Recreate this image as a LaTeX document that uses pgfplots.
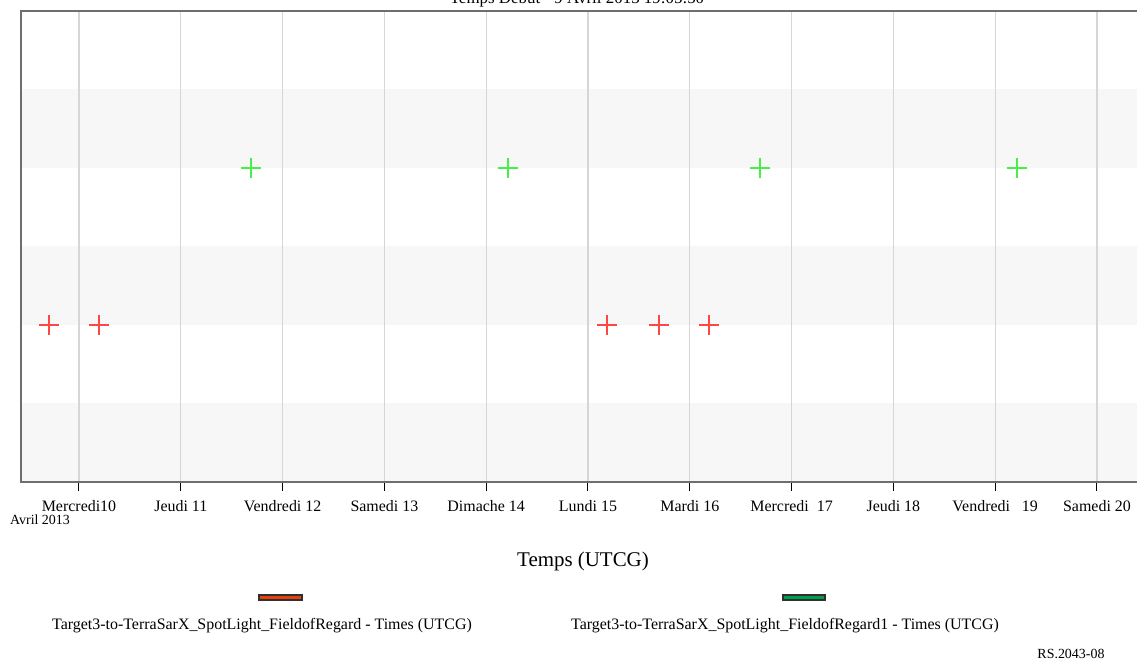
\documentclass[border=0pt]{standalone}
\usepackage{pgfplots}
\pgfplotsset{compat=1.18}
\usepackage{fontspec}
\setmainfont{Liberation Serif}

\definecolor{bandgray}{HTML}{F7F7F7}
\definecolor{gridgray}{HTML}{D6D6D6}
\definecolor{framegray}{HTML}{6E6E6E}
\definecolor{markred}{HTML}{FF4646}
\definecolor{markgreen}{HTML}{46F046}
\definecolor{swatchred}{HTML}{E8400C}
\definecolor{swatchgreen}{HTML}{00A04A}
\definecolor{swatchedge}{HTML}{303030}

% access times, in days of April 2013
\pgfplotstableread{
t     lane
9.705  2
10.196 2
15.187 2
15.697 2
16.189 2
}\accessA
\pgfplotstableread{
t     lane
11.690 4
14.214 4
16.690 4
19.214 4
}\accessB

\begin{document}
\begin{tikzpicture}[x=1bp,y=1bp]
\begin{axis}[
  set layers,
  at={(21bp,180bp)}, anchor=south west,
  scale only axis, width=1116bp, height=471bp,
  xmin=9.4303, xmax=20.393, ymin=0, ymax=6,
  axis line style={draw=none},
  xtick={10,...,20},
  xticklabels={Mercredi10, Jeudi 11, Vendredi 12, Samedi 13, Dimache 14, Lundi 15, Mardi 16, Mercredi\ \ 17, Jeudi 18, Vendredi\ \ \ 19, Samedi 20},
  ytick=\empty,
  xmajorgrids,
  major grid style={gridgray, line width=1.3bp},
  xtick pos=bottom,
  tick align=outside,
  major tick length=9bp,
  x tick style={black, line width=1bp},
  xticklabel style={font=\fontsize{16}{18}\selectfont, yshift=-6bp},
  clip=false,
]
\begin{pgfonlayer}{axis background}
  \fill[bandgray] (axis cs:9.4303,0) rectangle (axis cs:20.393,1);
  \fill[bandgray] (axis cs:9.4303,2) rectangle (axis cs:20.393,3);
  \fill[bandgray] (axis cs:9.4303,4) rectangle (axis cs:20.393,5);
\end{pgfonlayer}
\addplot[only marks, mark=+, mark size=10bp, mark options={markred, line width=1.3bp}] table[x=t, y=lane] {\accessA};
\addplot[only marks, mark=+, mark size=10bp, mark options={markgreen, line width=1.3bp}] table[x=t, y=lane] {\accessB};
\draw[framegray, line width=2bp] (rel axis cs:1,1) -- (rel axis cs:0,1) -- (rel axis cs:0,0) -- (rel axis cs:1,0);
\end{axis}

% start time (runs off the top of the page)
\node[anchor=base, font=\fontsize{17}{19}\selectfont] at (577bp,658bp) {Temps Début - 9 Avril 2013 19:05:50};

\node[anchor=north, font=\fontsize{14}{16}\selectfont, inner sep=0pt] at (40bp,147bp) {Avril 2013};
\node[font=\fontsize{21}{24}\selectfont] at (583bp,101bp) {Temps (UTCG)};

% legend
\filldraw[fill=swatchred, draw=swatchedge, line width=1.6bp] (259bp,62bp) rectangle (302bp,67bp);
\filldraw[fill=swatchgreen, draw=swatchedge, line width=1.6bp] (783bp,62bp) rectangle (825bp,67bp);
\node[font=\fontsize{16}{18}\selectfont] at (262bp,36bp) {Target3-to-TerraSarX\_SpotLight\_FieldofRegard - Times (UTCG)};
\node[font=\fontsize{16}{18}\selectfont] at (785bp,36bp) {Target3-to-TerraSarX\_SpotLight\_FieldofRegard1 - Times (UTCG)};

\node[anchor=east, font=\fontsize{14}{16}\selectfont] at (1108bp,8bp) {RS.2043-08};

\pgfresetboundingbox
\useasboundingbox (0,0) rectangle (1137bp,662bp);
\end{tikzpicture}
\end{document}
